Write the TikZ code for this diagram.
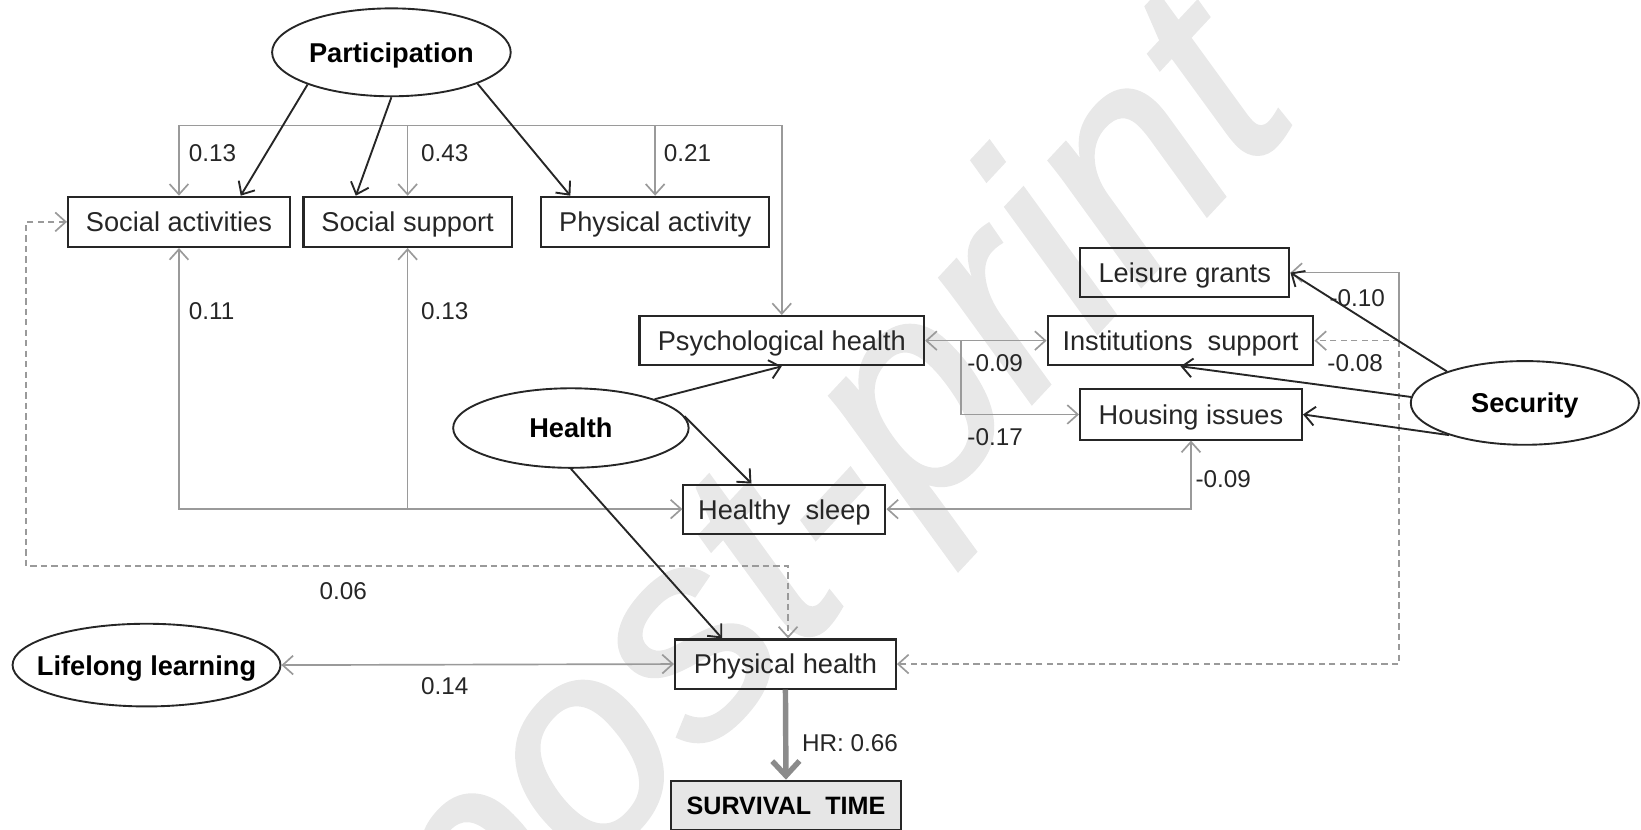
\documentclass[tikz,border=0pt]{standalone}
\usepackage{fontspec}
\setmainfont{Liberation Sans}
\newfontfamily\wmfont[FakeBold=1.2]{Liberation Sans}
\usetikzlibrary{arrows.meta,calc,shapes.geometric}
\definecolor{ln}{HTML}{9A9A9A}
\definecolor{bx}{HTML}{262626}
\definecolor{wm}{HTML}{E8E8E8}
\definecolor{stfill}{HTML}{E6E6E6}
\newcommand{\zw}[1]{\makebox[0pt][c]{#1}}
\begin{document}
\begin{tikzpicture}[x=0.5pt,y=-0.5pt,
  box/.style={draw=bx, line width=1pt, minimum height=24pt, inner sep=0pt,
    text height=9.5pt, text depth=0pt,
    font=\fontsize{13}{15}\selectfont, text=bx},
  lat/.style={ellipse, draw=bx, line width=0.9pt, inner sep=0pt,
    text height=9.5pt, text depth=0pt,
    font=\fontsize{13}{15}\selectfont\bfseries, text=black},
  tip/.style={-{Straight Barb[length=5pt,width=9pt]}},
  tips/.style={{Straight Barb[length=5pt,width=9pt]}-{Straight Barb[length=5pt,width=9pt]}},
  blk/.style={draw=black!85, line width=0.9pt, tip},
  gl/.style={draw=ln, line width=0.8pt},
  gd/.style={draw=ln, line width=0.8pt, dash pattern=on 3pt off 2pt},
  lbl/.style={font=\fontsize{11.6}{13}\selectfont, text=bx, anchor=west, inner sep=0pt}
]
\useasboundingbox (0,0) rectangle (1568,793);
% watermark
\node[rotate=47, text=wm, font=\fontsize{138}{145}\wmfont\itshape, inner sep=0pt] (wmk) at (800,480) {post-print};

% nodes
\node[lat, minimum width=114pt, minimum height=42pt] (part) at (374,50) {\zw{Participation}};
\node[lat, minimum width=112.5pt, minimum height=38pt] (health) at (545.5,409) {\zw{Health}};
\node[lat, minimum width=109pt, minimum height=40pt] (sec) at (1457,385) {\zw{Security}};
\node[lat, minimum width=128pt, minimum height=39.5pt] (ll) at (140,635.5) {\zw{Lifelong learning}};

\node[box, minimum width=106pt] (sa) at (171,212) {Social activities};
\node[box, minimum width=99.5pt] (ss) at (389.5,212) {Social support};
\node[box, minimum width=109pt] (pa) at (626,212) {Physical activity};
\node[box, minimum width=100pt, minimum height=23.5pt] (lg) at (1132,260.5) {Leisure grants};
\node[box, minimum width=136pt, minimum height=23.5pt] (psy) at (747,325.5) {Psychological health};
\node[box, minimum width=127pt, minimum height=23.5pt] (is) at (1128,325.5) {Institutions\ \ support};
\node[box, minimum width=106pt] (hi) at (1138,396) {Housing issues};
\node[box, minimum width=96.5pt, minimum height=23.5pt] (hs) at (749.5,486.5) {Healthy\ \ sleep};
\node[box, minimum width=105.5pt, minimum height=23.5pt] (phy) at (750.5,634.5) {Physical health};
\node[box, fill=stfill, minimum width=110pt, minimum height=23.5pt, text height=8.8pt, font=\fontsize{12}{14}\selectfont\bfseries, text=black] (st) at (751,769.5) {SURVIVAL\ \ TIME};

% coordinates
\coordinate (top) at (747,120);
\coordinate (jr) at (918,325.5);
\coordinate (rx) at (1337,325.5);
\coordinate (lx) at (25,541);

% gray correlation lines
\draw[gl, tips] (psy.north) -- (top) -| (sa.north);
\draw[gl, tip] (ss.north |- top) -- (ss.north);
\draw[gl, tip] (pa.north |- top) -- (pa.north);
\draw[gl, tips] (sa.south) |- (hs.west);
\draw[gl, tip] (ss.south |- hs.west) -- (ss.south);
\draw[gl, tips] (psy.east) -- (is.west);
\draw[gl, tip] (jr) |- (hi.west);
\draw[gl, tips] (hs.east) -| (hi.south);
\draw[gl, tip] (rx) |- (lg.east);
\draw[gd, tip] (rx) -- (is.east);
\draw[gd, tip] (rx) |- (phy.east);
\draw[gd, tips] (sa.west) -| (lx) -| ([xshift=1.25pt]phy.north);
\draw[gl, tips] (ll.east) -- (phy.west);

% black paths
\draw[blk] (part.201) -- ([xshift=29.5pt]sa.north);
\draw[blk] (part.south) -- ([xshift=-24.75pt]ss.north);
\draw[blk] (part.340) -- ([xshift=-40.5pt]pa.north);
\draw[blk] (health.19) -- (psy.south);
\draw[blk] (health.6) -- ([xshift=-15.75pt]hs.north);
\draw[blk] (health.south) -- ([xshift=-30.25pt]phy.north);
\draw[blk] (sec.158) -- (lg.east);
\draw[blk] (sec.177) -- (is.south);
\draw[blk] (sec.203) -- (hi.east);

% survival arrow
\draw[draw=ln!90!black, line width=2.6pt, -{Straight Barb[length=7pt,width=13pt]}] (phy.south) -- (st.north);

% labels
\node[lbl] (l1) at (180,146) {0.13};
\node[lbl] (l2) at (402,146) {0.43};
\node[lbl] (l3) at (634,146) {0.21};
\node[lbl] (l4) at (180,297) {0.11};
\node[lbl] (l5) at (402,297) {0.13};
\node[lbl] (l6) at (924,347) {-0.09};
\node[lbl] (l7) at (924,418) {-0.17};
\node[lbl] (l8) at (1270,285) {-0.10};
\node[lbl] (l9) at (1268,347) {-0.08};
\node[lbl] (l10) at (1142,458) {-0.09};
\node[lbl] (l11) at (305,565) {0.06};
\node[lbl] (l12) at (402,656) {0.14};
\node[lbl] (l13) at (766,710) {HR: 0.66};
\end{tikzpicture}
\end{document}
